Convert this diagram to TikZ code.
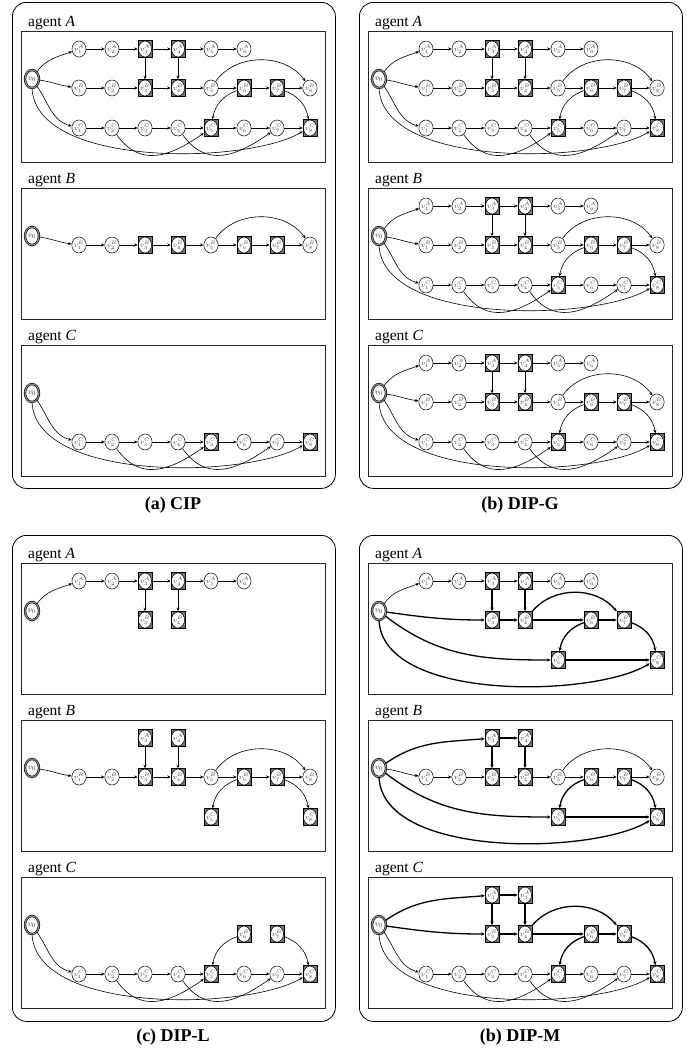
\documentclass[tikz,border=0pt]{standalone}
\usepackage{fontspec}
\setmainfont{Liberation Serif}
\usetikzlibrary{shapes.geometric,arrows.meta}
\tikzset{
 vn/.style={ellipse, draw, fill=white, minimum width=13pt, minimum height=16pt, inner sep=0pt, line width=0.5pt, font=\fontsize{7.5}{8}\selectfont, text=black!75},
 sqb/.style={rectangle, draw, fill=black!55, minimum width=14pt, minimum height=17pt, inner sep=0pt, line width=0.5pt, font=\fontsize{7.5}{8}\selectfont, text=black!75,
   path picture={\draw[line width=0.5pt, fill=white] (path picture bounding box.center) ellipse [x radius=6.5pt, y radius=8pt];}},
 vz/.style={ellipse, draw, double=black!45, double distance=1.1pt, line width=0.6pt, fill=white, minimum width=14pt, minimum height=18pt, inner sep=0pt, font=\fontsize{8}{9}\selectfont, text=black!75},
 edg/.style={-{Stealth[length=3.5pt,width=3pt]}, line width=0.6pt},
 tedg/.style={-{Stealth[length=3.8pt,width=3.4pt]}, line width=1.3pt},
 ibox/.style={rectangle, draw=black!85, line width=0.8pt, minimum width=304pt, minimum height=131pt, anchor=north west, inner sep=0pt},
 albl/.style={anchor=base west, inner sep=0pt, font=\fontsize{15.5}{18}\selectfont},
 obox/.style={rectangle, draw, line width=0.8pt, rounded corners=14pt, minimum width=323pt, minimum height=486pt, anchor=north west, inner sep=0pt},
 captxt/.style={anchor=base, inner sep=0pt, font=\fontsize{18}{21}\selectfont\bfseries},
}
\def\rowA{-18}\def\rowB{-57}\def\rowC{-97}
\newcommand\VE[2]{\node[vn] (\pfx-#1#2) at ({25+33*#2},{\csname row#1\endcsname}) {$v^{#1}_{#2}$};}
\newcommand\VS[2]{\node[sqb] (\pfx-#1#2) at ({25+33*#2},{\csname row#1\endcsname}) {$v^{#1}_{#2}$};}
\newcommand\VZ{\node[vz] (\pfx-0) at (11,-48) {$v_0$};}
\newcommand\AgentFrame[1]{\node[ibox] (\pfx-box) at (0,0) {};\node[albl] (\pfx-lbl) at (7,5) {agent \textit{#1}};}
\newcommand\PartA{\foreach \i in {1,2,5,6}{\VE{A}{\i}}\VS{A}{3}\VS{A}{4}
 \foreach \i/\j in {1/2,2/3,3/4,4/5,5/6}{\draw[edg] (\pfx-A\i) -- (\pfx-A\j);}
 \draw[edg] (\pfx-0) to[out=55,in=200] (\pfx-A1);}
\newcommand\PartB{\foreach \i in {1,2,5,8}{\VE{B}{\i}}\foreach \i in {3,4,6,7}{\VS{B}{\i}}
 \foreach \i/\j in {1/2,2/3,3/4,4/5,5/6,6/7,7/8}{\draw[edg] (\pfx-B\i) -- (\pfx-B\j);}
 \draw[edg] (\pfx-B5) to[out=55,in=125] (\pfx-B8);
 \draw[edg] (\pfx-0) to[out=-8,in=172] (\pfx-B1);}
\newcommand\PartC{\foreach \i in {1,2,3,4,6,7}{\VE{C}{\i}}\VS{C}{5}\VS{C}{8}
 \foreach \i/\j in {1/2,2/3,3/4,4/5,5/6,6/7,7/8}{\draw[edg] (\pfx-C\i) -- (\pfx-C\j);}
 \draw[edg] (\pfx-C2) to[out=-55,in=-145,looseness=1.2] (\pfx-C5);
 \draw[edg] (\pfx-C4) to[out=-55,in=-145,looseness=1.2] (\pfx-C7);
 \draw[edg] (\pfx-0) to[out=-55,in=165] (\pfx-C1);
 \draw[edg] (\pfx-0.south) .. controls +(4,-80) and +(-55,-33) .. (\pfx-C8.205);}
\newcommand\CrossAB[1]{\draw[#1] (\pfx-A3) -- (\pfx-B3);\draw[#1] (\pfx-A4) -- (\pfx-B4);}
\newcommand\CrossBC[1]{\draw[#1] (\pfx-B6) to[out=200,in=80] (\pfx-C5);\draw[#1] (\pfx-B7) to[out=-20,in=100] (\pfx-C8);}
\newcommand\MidA{\VS{A}{3}\VS{A}{4}
 \draw[tedg] (\pfx-0) to[out=35,in=185] (\pfx-A3);\draw[tedg] (\pfx-A3) -- (\pfx-A4);}
\newcommand\MidB{\foreach \i in {3,4,6,7}{\VS{B}{\i}}
 \draw[tedg] (\pfx-0) to[out=-8,in=180] (\pfx-B3);
 \draw[tedg] (\pfx-B3) -- (\pfx-B4);\draw[tedg] (\pfx-B4) -- (\pfx-B6);\draw[tedg] (\pfx-B6) -- (\pfx-B7);
 \draw[tedg] (\pfx-B4) to[out=50,in=130] (\pfx-B7);}
\newcommand\MidC{\VS{C}{5}\VS{C}{8}
 \draw[tedg] (\pfx-0) to[out=-38,in=180] (\pfx-C5);\draw[tedg] (\pfx-C5) -- (\pfx-C8);
 \draw[tedg] (\pfx-0.south) .. controls +(4,-82) and +(-55,-34) .. (\pfx-C8.205);}
\begin{document}
\begin{tikzpicture}[x=1pt,y=1pt]
\useasboundingbox (0,0) rectangle (689,-1050);
% ---------------- (a) CIP
\begin{scope}[shift={(21,-31)}]
 \node[obox] (pa-out) at (-9,29) {};
 \node[captxt] (pa-cap) at (152,-478) {(a) CIP};
 \begin{scope}\def\pfx{aA}\AgentFrame{A}\VZ\PartA\PartB\PartC\CrossAB{edg}\CrossBC{edg}\end{scope}
 \begin{scope}[shift={(0,-157)}]\def\pfx{aB}\AgentFrame{B}\VZ\PartB\end{scope}
 \begin{scope}[shift={(0,-314)}]\def\pfx{aC}\AgentFrame{C}\VZ\PartC\end{scope}
\end{scope}
% ---------------- (b) DIP-G
\begin{scope}[shift={(368,-31)}]
 \node[obox] (pb-out) at (-9,29) {};
 \node[captxt] (pb-cap) at (152,-478) {(b) DIP-G};
 \begin{scope}\def\pfx{bA}\AgentFrame{A}\VZ\PartA\PartB\PartC\CrossAB{edg}\CrossBC{edg}\end{scope}
 \begin{scope}[shift={(0,-157)}]\def\pfx{bB}\AgentFrame{B}\VZ\PartA\PartB\PartC\CrossAB{edg}\CrossBC{edg}\end{scope}
 \begin{scope}[shift={(0,-314)}]\def\pfx{bC}\AgentFrame{C}\VZ\PartA\PartB\PartC\CrossAB{edg}\CrossBC{edg}\end{scope}
\end{scope}
% ---------------- (c) DIP-L
\begin{scope}[shift={(21,-563)}]
 \node[obox] (pc-out) at (-9,28) {};
 \node[captxt] (pc-cap) at (152,-478) {(c) DIP-L};
 \begin{scope}\def\pfx{cA}\AgentFrame{A}\VZ\PartA\VS{B}{3}\VS{B}{4}\CrossAB{edg}\end{scope}
 \begin{scope}[shift={(0,-157)}]\def\pfx{cB}\AgentFrame{B}\VZ\VS{A}{3}\VS{A}{4}\PartB\VS{C}{5}\VS{C}{8}\CrossAB{edg}\CrossBC{edg}\end{scope}
 \begin{scope}[shift={(0,-314)}]\def\pfx{cC}\AgentFrame{C}\VZ\VS{B}{6}\VS{B}{7}\PartC\CrossBC{edg}\end{scope}
\end{scope}
% ---------------- (d) DIP-M
\begin{scope}[shift={(368,-563)}]
 \node[obox] (pd-out) at (-9,28) {};
 \node[captxt] (pd-cap) at (152,-478) {(b) DIP-M};
 \begin{scope}\def\pfx{dA}\AgentFrame{A}\VZ\PartA\MidB\MidC\CrossAB{tedg}\CrossBC{tedg}\end{scope}
 \begin{scope}[shift={(0,-157)}]\def\pfx{dB}\AgentFrame{B}\VZ\MidA\PartB\MidC\CrossAB{tedg}\CrossBC{tedg}\end{scope}
 \begin{scope}[shift={(0,-314)}]\def\pfx{dC}\AgentFrame{C}\VZ\MidA\MidB\PartC\CrossAB{tedg}\CrossBC{tedg}\end{scope}
\end{scope}
\end{tikzpicture}
\end{document}
